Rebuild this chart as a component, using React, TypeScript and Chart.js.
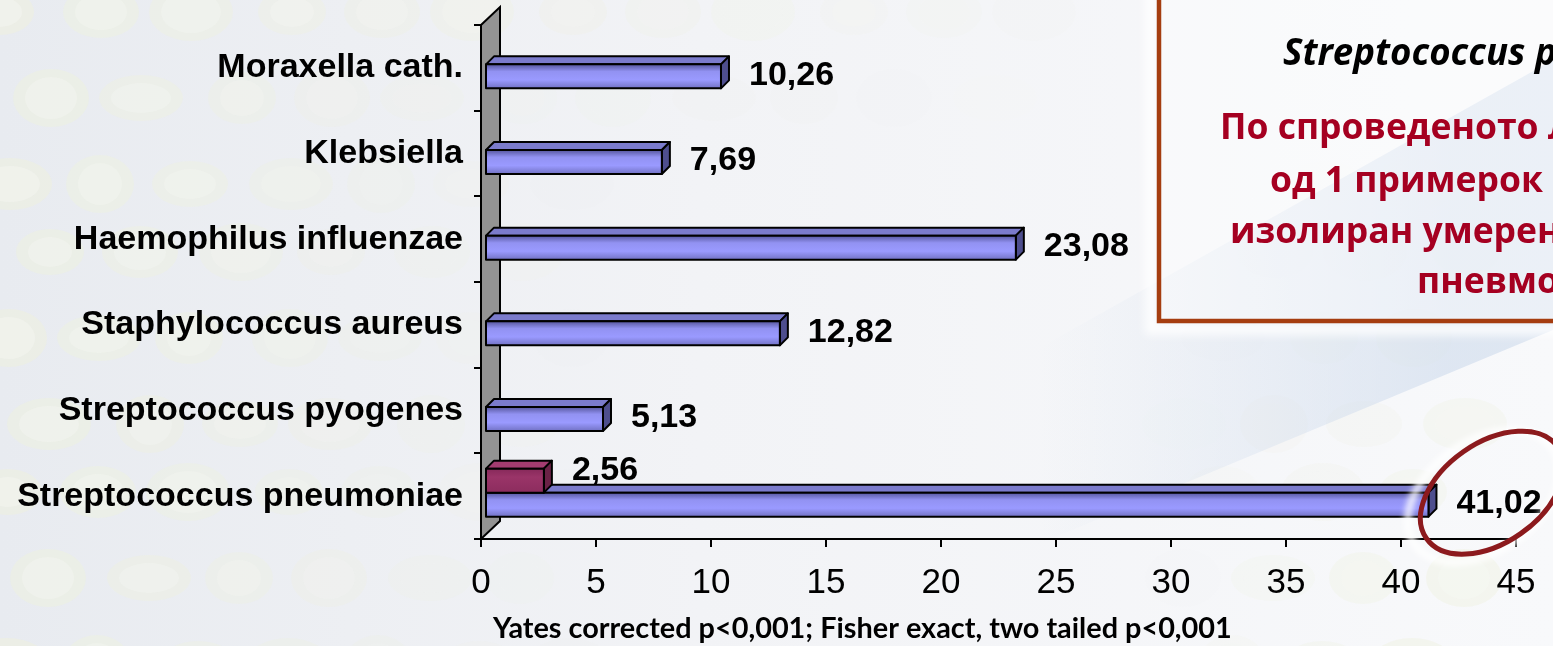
import { useEffect, useRef } from "react";
import { Chart, registerables } from "chart.js";

Chart.register(...registerables);

// Isolated pathogens (%), top to bottom
const categories = [
  "Moraxella cath.",
  "Klebsiella",
  "Haemophilus influenzae",
  "Staphylococcus aureus",
  "Streptococcus pyogenes",
  "Streptococcus pneumoniae",
];
const resistantValues: (number | null)[] = [null, null, null, null, null, 2.56];
const isolateValues: (number | null)[] = [10.26, 7.69, 23.08, 12.82, 5.13, 41.02];

const axisMin = 0;
const axisMax = 45;
const axisStep = 5;

const footnote = "Yates corrected p<0,001; Fisher exact, two tailed p<0,001";
const boxTitle = "Streptococcus pneumoniae";
const boxLines = [
  "По спроведеното Лабораториско испитување,",
  "од 1 примерок на спутум е",
  "изолиран умерено резистентен",
  "пневмокок",
];

const W = 1553;
const H = 646;
const ARIAL = "'Liberation Sans', Arial, sans-serif";

type Face = { front: [number, string][]; top: string; side: string };
const faces: Face[] = [
  {
    front: [
      [0, "#86295a"],
      [0.35, "#9a3468"],
      [1, "#8c2d5e"],
    ],
    top: "#a33c70",
    side: "#6a2246",
  },
  {
    front: [
      [0, "#56569e"],
      [0.3, "#9292f2"],
      [0.65, "#9a9aff"],
      [1, "#7272c4"],
    ],
    top: "#7b7bcc",
    side: "#4e4e8e",
  },
];
// vertical nudge of each series' value label
const labelShift = [-10, -1];

const fmt = (v: number) => v.toFixed(2).replace(".", ",");

function fitSize(ctx: CanvasRenderingContext2D, text: string, font: (s: number) => string, width: number) {
  ctx.font = font(100);
  return (100 * width) / ctx.measureText(text).width;
}

const slide = {
  id: "slide",
  beforeDraw(chart: Chart) {
    const ctx = chart.ctx;
    ctx.save();
    const g = ctx.createLinearGradient(0, 0, W, 0);
    g.addColorStop(0, "#e8ebf0");
    g.addColorStop(0.45, "#f2f3f6");
    g.addColorStop(1, "#f8f9fb");
    ctx.fillStyle = g;
    ctx.fillRect(0, 0, W, H);

    // faint dotted dome pattern
    for (let r = 0; r < 9; r++) {
      const cy = 12 + r * 80 + (r % 3) * 6;
      for (let c = 0; c < 16; c++) {
        const cx = (r % 2 ? 46 : 0) + c * 94 + ((c * 7 + r * 5) % 11);
        const a = Math.max(0, 1 - cx / 620, (1 - cy / 150) * (1 - cx / 1150));
        if (a <= 0) continue;
        const rx = 34 + ((c + r) % 3) * 4;
        const ry = 23 + ((c + 2 * r) % 3) * 3;
        ctx.fillStyle = `rgba(238,241,222,${0.55 * a})`;
        ctx.beginPath();
        ctx.ellipse(cx, cy, rx, ry, 0, 0, Math.PI * 2);
        ctx.fill();
        ctx.fillStyle = `rgba(249,250,246,${0.35 * a})`;
        ctx.beginPath();
        ctx.ellipse(cx, cy, rx - 12, ry - 8, 0, 0, Math.PI * 2);
        ctx.fill();
      }
    }

    // soft blue diagonal swoosh
    const bg = ctx.createLinearGradient(1040, 0, 1450, 0);
    bg.addColorStop(0, "rgba(205,218,236,0)");
    bg.addColorStop(1, "rgba(205,218,236,0.6)");
    ctx.fillStyle = bg;
    ctx.beginPath();
    ctx.moveTo(1000, 370);
    ctx.lineTo(W, 60);
    ctx.lineTo(W, 330);
    ctx.lineTo(1000, 560);
    ctx.closePath();
    ctx.fill();
    ctx.restore();
  },
};

function drawBar(
  ctx: CanvasRenderingContext2D,
  x1: number,
  x2: number,
  y1: number,
  h: number,
  dx: number,
  dy: number,
  f: Face
) {
  const y2 = y1 + h;
  ctx.lineWidth = 2;
  ctx.lineJoin = "round";
  ctx.strokeStyle = "#000";

  // top face
  ctx.beginPath();
  ctx.moveTo(x1, y1);
  ctx.lineTo(x1 + dx, y1 - dy);
  ctx.lineTo(x2 + dx, y1 - dy);
  ctx.lineTo(x2, y1);
  ctx.closePath();
  ctx.fillStyle = f.top;
  ctx.fill();
  ctx.stroke();

  // side face
  ctx.beginPath();
  ctx.moveTo(x2, y1);
  ctx.lineTo(x2 + dx, y1 - dy);
  ctx.lineTo(x2 + dx, y2 - dy);
  ctx.lineTo(x2, y2);
  ctx.closePath();
  ctx.fillStyle = f.side;
  ctx.fill();
  ctx.stroke();

  // front face
  const g = ctx.createLinearGradient(0, y1, 0, y2);
  f.front.forEach(([o, c]) => g.addColorStop(o, c));
  ctx.fillStyle = g;
  ctx.fillRect(x1, y1, x2 - x1, h);
  ctx.strokeRect(x1, y1, x2 - x1, h);
}

const bars3d = {
  id: "bars3d",
  beforeDatasetsDraw(chart: Chart) {
    const { ctx, chartArea } = chart;
    const x0 = chart.scales.x.getPixelForValue(0);
    const wx = 19;
    const wy = 18;
    ctx.save();
    ctx.beginPath();
    ctx.moveTo(x0, chartArea.bottom);
    ctx.lineTo(x0, chartArea.top);
    ctx.lineTo(x0 + wx, chartArea.top - wy);
    ctx.lineTo(x0 + wx, chartArea.bottom - wy);
    ctx.closePath();
    ctx.fillStyle = "#939393";
    ctx.fill();
    ctx.lineWidth = 2;
    ctx.strokeStyle = "#000";
    ctx.stroke();
    ctx.restore();
  },
  beforeDatasetDraw() {
    return false;
  },
  afterDatasetsDraw(chart: Chart) {
    const ctx = chart.ctx;
    const sx = 4;
    const sy = -3.5;
    const dx = 8;
    const dy = 8;
    ctx.save();
    const labels: { x: number; y: number; t: string }[] = [];
    for (let d = chart.data.datasets.length - 1; d >= 0; d--) {
      const meta = chart.getDatasetMeta(d);
      const vals = chart.data.datasets[d].data as (number | null)[];
      meta.data.forEach((el: any, i: number) => {
        const v = vals[i];
        if (v == null) return;
        const x1 = el.base + sx;
        const x2 = el.x + sx;
        const y1 = el.y - el.height / 2 + sy;
        drawBar(ctx, x1, x2, y1, el.height, dx, dy, faces[d]);
        labels.push({ x: x2 + 28, y: el.y + sy + labelShift[d], t: fmt(v) });
      });
    }
    ctx.fillStyle = "#000";
    ctx.font = `bold 34px ${ARIAL}`;
    ctx.textAlign = "left";
    ctx.textBaseline = "middle";
    labels.forEach((l) => ctx.fillText(l.t, l.x, l.y));
    (chart as any).$valueLabels = labels;
    ctx.restore();
  },
  afterDraw(chart: Chart) {
    const ctx = chart.ctx;
    ctx.save();

    // text box
    const bx = 1159;
    const by = -20;
    const bb = 321;
    ctx.filter = "blur(5px)";
    ctx.strokeStyle = "rgba(255,255,255,0.85)";
    ctx.lineWidth = 12;
    ctx.strokeRect(bx - 8, by, W, bb - by + 8);
    ctx.filter = "none";
    ctx.fillStyle = "rgba(255,255,255,0.4)";
    ctx.fillRect(bx, by, W, bb - by);
    ctx.strokeStyle = "#a53d10";
    ctx.lineWidth = 4.5;
    ctx.strokeRect(bx, by, W, bb - by);

    const titleFont = (s: number) => `italic bold ${s}px 'Open Sans', 'Noto Sans', sans-serif`;
    const ts = fitSize(ctx, "Streptococcus ", titleFont, 252);
    ctx.font = titleFont(ts);
    ctx.fillStyle = "#000";
    ctx.textAlign = "left";
    ctx.textBaseline = "alphabetic";
    ctx.fillText(boxTitle, 1283, 65);

    const redFont = (s: number) => `bold ${s}px 'Open Sans', 'Noto Sans', sans-serif`;
    const rs = fitSize(ctx, "од 1 примерок", redFont, 273);
    ctx.font = redFont(rs);
    ctx.fillStyle = "#a50021";
    const starts = [1220, 1270, 1230, 1417];
    const bases = [139, 192, 243, 293];
    boxLines.forEach((t, i) => ctx.fillText(t, starts[i], bases[i]));

    // footnote
    const fnFont = (s: number) => `bold ${s}px Lato, 'Open Sans', sans-serif`;
    const fs = fitSize(ctx, footnote, fnFont, 739);
    ctx.font = fnFont(fs);
    ctx.fillStyle = "#000";
    ctx.fillText(footnote, 493, 638);

    // highlight ring around the Streptococcus pneumoniae value
    const labels = (chart as any).$valueLabels as { x: number; y: number; t: string }[];
    const last = labels.find((l) => l.t === fmt(isolateValues[isolateValues.length - 1] as number));
    if (last) {
      ctx.font = `bold 34px ${ARIAL}`;
      const cx = last.x + ctx.measureText(last.t).width / 2 - 7;
      const cy = last.y - 11;
      ctx.translate(cx, cy);
      ctx.rotate((-35 * Math.PI) / 180);
      ctx.filter = "blur(3px)";
      ctx.strokeStyle = "rgba(255,255,255,0.9)";
      ctx.lineWidth = 7;
      ctx.beginPath();
      ctx.ellipse(-9, -2, 84, 55, 0, 0, Math.PI * 2);
      ctx.stroke();
      ctx.filter = "none";
      ctx.strokeStyle = "#8c1a1d";
      ctx.lineWidth = 5;
      ctx.beginPath();
      ctx.ellipse(0, 0, 80, 50, 0, 0, Math.PI * 2);
      ctx.stroke();
    }
    ctx.restore();
  },
};

export default function App() {
  const ref = useRef<HTMLCanvasElement>(null);

  useEffect(() => {
    if (!ref.current) return;
    const chart = new Chart(ref.current, {
      type: "bar",
      data: {
        labels: categories,
        datasets: [
          { label: "resistant", data: resistantValues, backgroundColor: "#993366" },
          { label: "isolates", data: isolateValues, backgroundColor: "#9999ff" },
        ],
      },
      options: {
        indexAxis: "y",
        responsive: false,
        animation: false,
        events: [],
        barThickness: 24,
        layout: { padding: { top: 25, right: 37, left: 0, bottom: 0 } },
        plugins: {
          legend: { display: false },
          tooltip: { enabled: false },
          title: { display: false },
        },
        scales: {
          x: {
            min: axisMin,
            max: axisMax,
            afterFit: (s: any) => {
              s.height = 107;
              s.paddingLeft = 0;
              s.paddingRight = 0;
            },
            ticks: {
              stepSize: axisStep,
              color: "#000",
              padding: 15,
              font: { family: ARIAL, size: 35, weight: "normal" },
            },
            grid: {
              drawOnChartArea: false,
              drawTicks: true,
              tickLength: 8,
              color: "#000",
              lineWidth: 2,
            },
            border: { display: true, color: "#000", width: 2 },
          },
          y: {
            afterFit: (s: any) => {
              s.width = 481;
              s.paddingTop = 0;
              s.paddingBottom = 0;
            },
            ticks: {
              color: "#000",
              padding: 11,
              font: { family: ARIAL, size: 34, weight: "bold" },
            },
            grid: {
              drawOnChartArea: false,
              drawTicks: true,
              tickLength: 7,
              color: "#000",
              lineWidth: 2,
            },
            border: { display: true, color: "#000", width: 2 },
          },
        },
      } as any,
      plugins: [slide, bars3d],
    });
    return () => chart.destroy();
  }, []);

  return (
    <div style={{ position: "absolute", left: 0, top: 0, width: W, height: H }}>
      <canvas ref={ref} width={W} height={H} style={{ display: "block" }} />
    </div>
  );
}
